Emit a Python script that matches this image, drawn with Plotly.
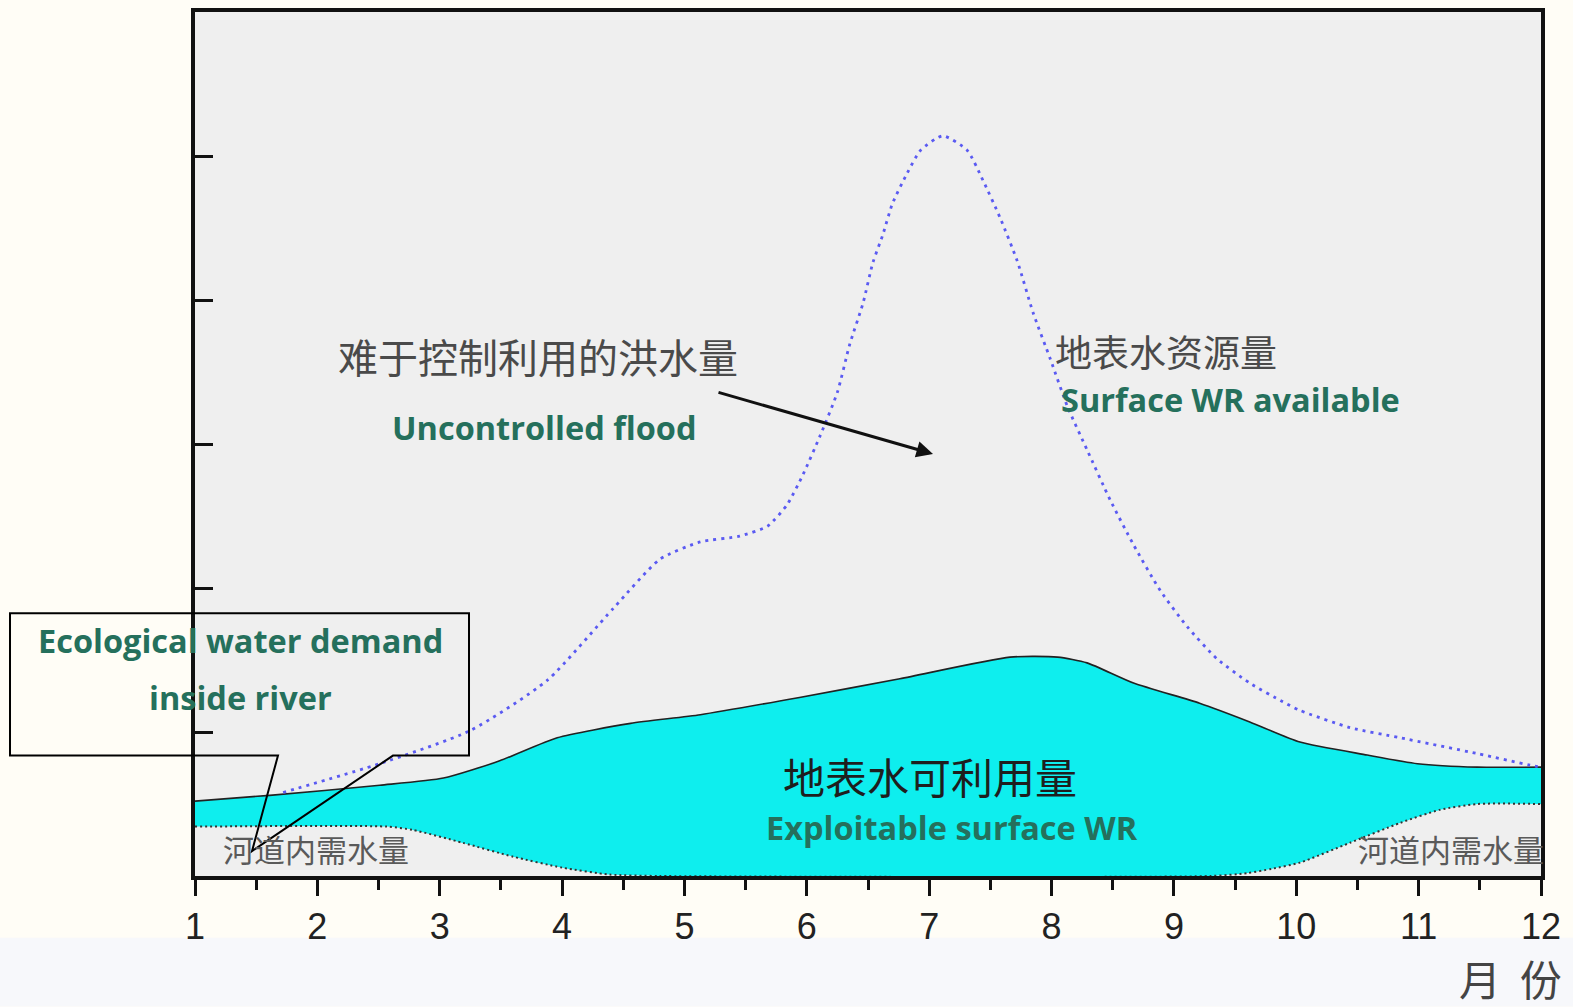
import plotly.graph_objects as go

# ---------------- data (months, relative water amount) ----------------
months = list(range(1, 13))
month_labels = [str(m) for m in months]

# total surface water resources (blue dotted, flood curve)
flood_x = [1.72, 2.51, 3.25, 3.88, 4.42, 4.80, 5.13, 5.45, 5.68, 5.84, 5.97, 6.11, 6.25,
           6.35, 6.46, 6.54, 6.62, 6.70, 6.82, 6.93, 7.11, 7.31, 7.44, 7.58, 7.72, 7.85,
           7.99, 8.13, 8.29, 8.48, 8.67, 8.89, 9.11, 9.35, 9.62, 9.89, 10.03, 10.44,
           10.85, 11.48, 11.91, 12.0]
flood_y = [0.58, 0.78, 1.01, 1.36, 1.86, 2.20, 2.32, 2.36, 2.43, 2.58, 2.79, 3.06, 3.36,
           3.69, 3.98, 4.26, 4.45, 4.67, 4.88, 5.04, 5.14, 5.04, 4.83, 4.57, 4.27, 3.91,
           3.59, 3.26, 2.96, 2.61, 2.30, 1.98, 1.73, 1.51, 1.34, 1.21, 1.15, 1.03,
           0.96, 0.85, 0.77, 0.756]

# exploitable surface water (top of cyan area)
exploit_x = [1.0, 1.61, 2.51, 3.03, 3.49, 3.96, 4.56, 5.13, 5.94, 6.76, 7.66, 8.05, 8.29,
             8.67, 9.21, 9.62, 10.03, 10.58, 10.99, 11.48, 12.0]
exploit_y = [0.52, 0.56, 0.63, 0.68, 0.80, 0.96, 1.06, 1.12, 1.24, 1.37, 1.52, 1.52, 1.48,
             1.34, 1.20, 1.07, 0.93, 0.84, 0.78, 0.756, 0.756]

# ecological water demand inside river (bottom of cyan area)
eco_x = [1.0, 2.57, 2.78, 3.19, 3.60, 4.00, 4.39, 4.8, 9.3, 9.6, 9.8, 10.03, 10.44,
         10.85, 11.17, 11.48, 12.0]
eco_y = [0.343, 0.343, 0.32, 0.23, 0.134, 0.058, 0.01, 0.0, 0.0, 0.02, 0.05, 0.093, 0.231,
         0.369, 0.459, 0.50, 0.50]

y_ticks = [1, 2, 3, 4, 5]

# ---------------- layout helpers (pixel -> paper) ----------------
L, R, T, B = 195, 1541, 8, 876
W, H = 1573, 1007
def px(x):
    return (x - L) / (R - L)
def py(y):
    return (B - y) / (B - T)

GREEN = "#25705c"
CJK = "Noto Sans CJK SC"
EN = "Open Sans"
EN_SIZE = 32.5

fig = go.Figure()

fig.add_trace(go.Scatter(
    x=eco_x, y=eco_y, mode="lines", line=dict(color="#333333", width=2, dash="2px,3px",
                                               shape="spline", smoothing=0.6),
    hoverinfo="skip", showlegend=False))
fig.add_trace(go.Scatter(
    x=exploit_x, y=exploit_y, mode="lines", fill="tonexty", fillcolor="#0eeeee",
    line=dict(color="#222222", width=1.6, shape="spline", smoothing=0.6),
    hoverinfo="skip", showlegend=False))
fig.add_trace(go.Scatter(
    x=flood_x, y=flood_y, mode="lines",
    line=dict(color="#5a5af2", width=2.8, dash="3px,5px", shape="spline", smoothing=0.6),
    hoverinfo="skip", showlegend=False))

annotations = []
def txt(text, x, y, size, color, family, weight="normal"):
    annotations.append(dict(text=text, x=px(x), y=py(y), xref="paper", yref="paper",
                            showarrow=False, xanchor="center", yanchor="middle",
                            font=dict(size=size, color=color, family=family, weight=weight)))

txt("难于控制利用的洪水量", 538, 354, 40, "#4a4a4a", CJK)
txt("Uncontrolled flood", 544, 425, EN_SIZE, GREEN, EN, "bold")
txt("地表水资源量", 1166, 349, 37, "#4a4a4a", CJK)
txt("Surface WR available", 1230, 397, EN_SIZE, GREEN, EN, "bold")
txt("地表水可利用量", 930, 775, 42, "#1e1e1e", CJK)
txt("Exploitable surface WR", 952, 827, EN_SIZE, GREEN, EN, "bold")
txt("河道内需水量", 316, 848, 31, "#5a5a5a", CJK)
txt("河道内需水量", 1451, 848, 31, "#5a5a5a", CJK)
txt("Ecological water demand", 240, 639, EN_SIZE, GREEN, EN, "bold")
txt("inside river", 240, 697, EN_SIZE, GREEN, EN, "bold")
txt("月  份", 1510, 978, 42, "#444444", CJK)

# arrow pointing into the flood region
annotations.append(dict(x=px(933), y=py(452), xref="paper", yref="paper",
                        ax=717 - 933, ay=390 - 452, showarrow=True, text="",
                        arrowhead=2, arrowsize=1.1, arrowwidth=3, arrowcolor="#111111"))

# callout box for the ecological demand label
pts = [(10, 612), (469, 612), (469, 755), (393, 755), (252, 851), (278, 755), (10, 755)]
path = "M " + " L ".join(f"{px(a):.5f},{py(b):.5f}" for a, b in pts) + " Z"

shapes = [
    dict(type="rect", xref="paper", yref="paper", x0=px(0), x1=px(W), y0=py(938), y1=py(H),
         fillcolor="#f7f8fb", line=dict(width=0), layer="below"),
    dict(type="path", path=path, xref="paper", yref="paper",
         line=dict(color="#000000", width=2), fillcolor="rgba(0,0,0,0)", layer="above"),
]

fig.update_layout(
    width=W, height=H,
    margin=dict(l=L, r=W - R, t=T, b=H - B, pad=0),
    paper_bgcolor="#fffdf6", plot_bgcolor="#efefef",
    showlegend=False,
    annotations=annotations, shapes=shapes,
    xaxis=dict(range=[1, 12], tickvals=months, ticktext=month_labels,
               showgrid=False, zeroline=False, showline=True, linecolor="#111111",
               linewidth=3.5, mirror=True, ticks="outside", ticklen=16, tickwidth=3,
               tickcolor="#111111",
               minor=dict(dtick=0.5, tick0=1, ticks="outside", ticklen=10, tickwidth=3,
                          tickcolor="#111111", showgrid=False),
               tickfont=dict(family="Liberation Sans", size=36, color="#222222"),
               fixedrange=True),
    yaxis=dict(range=[0, 6], tickvals=y_ticks, showticklabels=False,
               showgrid=False, zeroline=False, showline=True, linecolor="#111111",
               linewidth=3.5, mirror=True, ticks="inside", ticklen=18, tickwidth=3,
               tickcolor="#111111", fixedrange=True),
)

fig.write_html("out.html", config={"displayModeBar": False},
               post_script="document.body.style.margin='0';document.body.style.overflow='hidden';")
